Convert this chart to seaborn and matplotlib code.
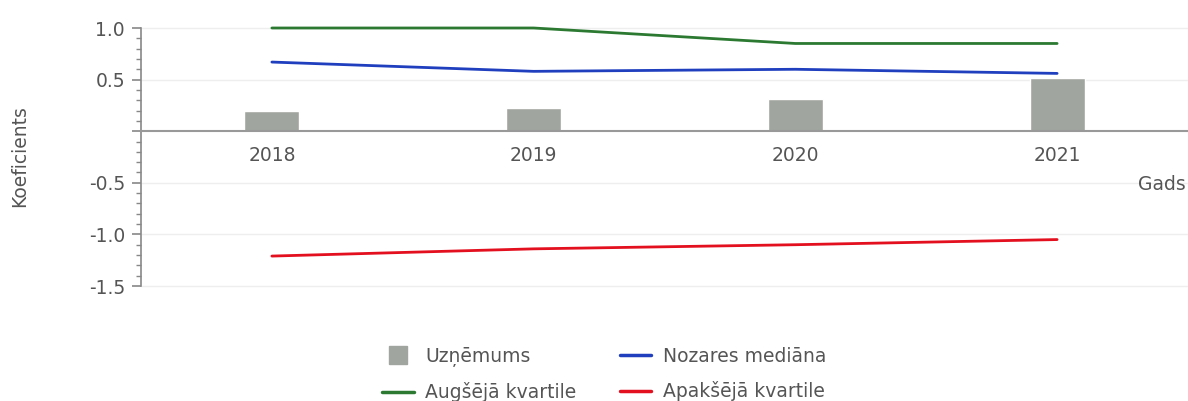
import numpy as np
import pandas as pd
import matplotlib
matplotlib.use("Agg")
import matplotlib.pyplot as plt
from matplotlib.lines import Line2D
from matplotlib.ticker import FixedLocator, MultipleLocator, FuncFormatter
import seaborn as sns

years = ["2018", "2019", "2020", "2021"]
company = [0.20, 0.22, 0.31, 0.52]
median = [0.67, 0.58, 0.60, 0.56]
upper_q = [1.00, 1.00, 0.85, 0.85]
lower_q = [-1.21, -1.14, -1.10, -1.05]

labels = ["Uzņēmums", "Nozares mediāna", "Augšējā kvartile", "Apakšējā kvartile"]
c_bar = "#a1a59f"
c_blue = "#1f3fbf"
c_green = "#2c7a32"
c_red = "#e3101f"
txt = "#555555"

sns.set_style("white")
plt.rcParams["font.family"] = ["DejaVu Sans"]

fig = plt.figure(figsize=(11.88, 4.01), dpi=100)
ax = fig.add_axes([141/1188, 1 - 286/401, 1 - 141/1188, (286 - 28)/401])

df = pd.DataFrame({"year": years, "company": company, "median": median,
                   "upper": upper_q, "lower": lower_q})

# grid lines
for v in [-1.5, -1.0, -0.5, 0.5, 1.0]:
    ax.axhline(v, color="#eeeeee", lw=1.0, zorder=0)

sns.barplot(data=df, x="year", y="company", color=c_bar, width=0.21,
            saturation=1, ax=ax, zorder=2)
sns.lineplot(data=df, x="year", y="upper", color=c_green, lw=2, ax=ax, sort=False, zorder=3)
sns.lineplot(data=df, x="year", y="median", color=c_blue, lw=2, ax=ax, sort=False, zorder=3)
sns.lineplot(data=df, x="year", y="lower", color=c_red, lw=2, ax=ax, sort=False, zorder=3)
for ln in ax.get_lines():
    ln.set_clip_on(False)

ax.set_xlim(-0.5, 3.5)
ax.set_ylim(-1.5, 1.0)
ax.set_xlabel("")
ax.set_ylabel("")

for s in ["top", "right"]:
    ax.spines[s].set_visible(False)
ax.spines["bottom"].set_position(("data", 0))
ax.spines["bottom"].set_color("#999999")
ax.spines["bottom"].set_linewidth(1.5)
ax.spines["left"].set_color("#888888")
ax.spines["left"].set_linewidth(1.2)

ax.yaxis.set_major_locator(FixedLocator([-1.5, -1.0, -0.5, 0.0, 0.5, 1.0]))
ax.yaxis.set_minor_locator(MultipleLocator(0.1))
ax.yaxis.set_major_formatter(FuncFormatter(lambda v, p: "" if abs(v) < 1e-9 else f"{v:.1f}"))
ax.tick_params(axis="y", which="major", left=True, length=6.5, width=1.2,
               color="#888888", labelcolor=txt, labelsize=13.5, pad=5)
ax.tick_params(axis="y", which="minor", left=True, length=3.5, width=1.0, color="#888888")
ax.tick_params(axis="x", length=0, labelcolor=txt, labelsize=13.5, pad=10.5)

fig.text(20/1188, 1 - 156/401, "Koeficients", rotation=90, ha="center", va="center",
         color=txt, fontsize=13.5)
fig.text(1186/1188, 1 - 184/401, "Gads", ha="right", va="center", color=txt, fontsize=13.5)

handles = [
    Line2D([], [], marker="s", linestyle="none", markersize=13, color=c_bar),
    Line2D([], [], color=c_green, lw=2.5),
    Line2D([], [], color=c_blue, lw=2.5),
    Line2D([], [], color=c_red, lw=2.5),
]
hl = [labels[0], labels[2], labels[1], labels[3]]
leg = fig.legend(handles, hl, ncol=2, loc="center", bbox_to_anchor=(0.5085, 1 - 374.5/401),
                 frameon=False, fontsize=13.5, handlelength=1.7, handletextpad=0.6,
                 columnspacing=2.3, labelspacing=0.85)
for t in leg.get_texts():
    t.set_color(txt)

fig.savefig("out.png", dpi=100)
